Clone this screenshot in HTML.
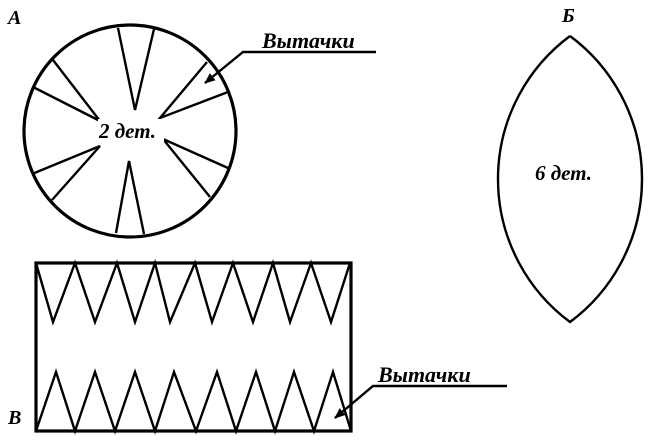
<!DOCTYPE html>
<html><head><meta charset="utf-8"><style>
html,body{margin:0;padding:0;background:#fff;}
svg{display:block;}
text{font-family:"Liberation Serif","DejaVu Serif",serif;font-weight:bold;font-style:italic;fill:#000;}
</style></head><body>
<svg width="656" height="443" viewBox="0 0 656 443" xmlns="http://www.w3.org/2000/svg">
<defs><marker id="ah" markerWidth="11" markerHeight="9" refX="10" refY="4.5" orient="auto" markerUnits="userSpaceOnUse"><path d="M0,0 L11,4.5 L0,9 z" fill="#000"/></marker></defs>
<g stroke="#000" fill="none" stroke-width="2.4">
<circle cx="130" cy="131" r="106" stroke-width="3.2"/>
<polyline points="118,28 135,110 154,29"/>
<polyline points="116,233 129,161 144,234"/>
<polyline points="53,60 100,121 33,87"/>
<polyline points="32,174 100,146 52,200"/>
<polyline points="207,62 160,118 228,92"/>
<polyline points="228,168 163,139 210,197"/>
<polyline points="376,52 243,52 205,83" marker-end="url(#ah)"/>
<rect x="36" y="263" width="315" height="168" stroke-width="3.2"/>
<polyline points="36,263 53,322 75,263 95,322 117,263 135,322 155,263 170,322 195,263 212,322 233,263 253,322 273,263 290,322 311,263 331,322 350,263"/>
<polyline points="36,431 56,372 75,431 95,372 115,431 135,372 155,431 174,372 196,431 217,372 236,431 256,372 275,431 294,372 314,431 333,372 351,431"/>
<polyline points="507,386 373,386 335,418" marker-end="url(#ah)"/>
<path d="M570,36 A178,178 0 0 0 570,322 A178,178 0 0 0 570,36" stroke-width="2.4"/>
</g>
<rect x="98" y="119" width="66" height="24" fill="#fff"/>
<text x="99" y="138" font-size="21">2 дет.</text>
<text x="8" y="24" font-size="20">А</text>
<text x="262" y="48" font-size="22">Вытачки</text>
<text x="562" y="22" font-size="20">Б</text>
<text x="535" y="180" font-size="21">6 дет.</text>
<text x="378" y="382" font-size="22">Вытачки</text>
<text x="8" y="424" font-size="20">В</text>
</svg>
</body></html>
